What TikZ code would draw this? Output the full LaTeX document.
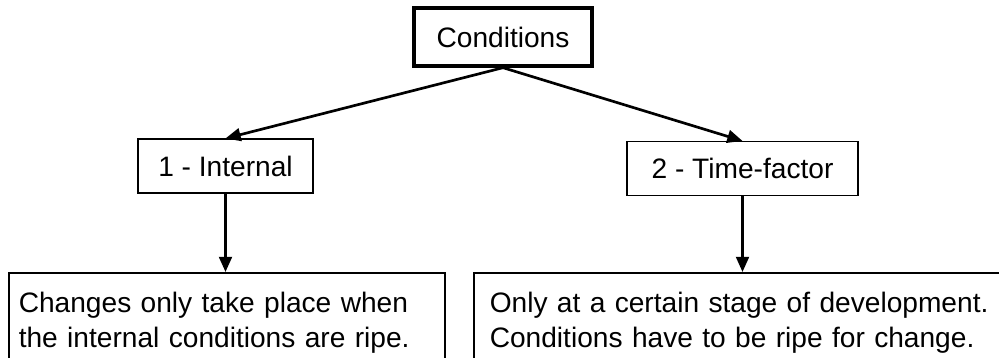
\documentclass[tikz,border=0pt]{standalone}
\usepackage{fontspec}
\setmainfont{Liberation Sans}
\usetikzlibrary{positioning, arrows.meta}

\begin{document}
\begin{tikzpicture}[x=0.025cm, y=-0.025cm,
    every node/.style={font=\fontsize{20}{24.5}\selectfont},
    headbox/.style={draw, line width=2.4pt, minimum width=4.45cm, minimum height=1.45cm, inner sep=0pt},
    kindbox/.style={draw, line width=1.1pt, minimum height=1.34cm, inner sep=0pt},
    notebox/.style={draw, line width=1.1pt, anchor=north west, align=left, minimum height=3.5cm, text depth=2cm},
    link/.style={line width=1.9pt, -{Triangle[length=0.38cm, width=0.32cm]}}]

    \clip (0,0) rectangle (999,357);

    %Top node
    \node[headbox] (cond) at (503,37) {Conditions};

    %Two kinds of conditions
    \node[kindbox, minimum width=4.38cm] (internal) at (225.5,166) {1 - Internal};
    \node[kindbox, minimum width=5.78cm] (timef) at (742.5,168.5) {2 - Time-factor};

    %Notes below
    \node[notebox, text width=10.4cm, inner xsep=0.25cm, inner ysep=0.25cm] (note1) at (8,272)
        {Changes only take place when\\the internal conditions are ripe.};
    \node[notebox, text width=12.9cm, inner xsep=0.4cm, inner ysep=0.25cm] (note2) at (473,272)
        {Only at a certain stage of development.\\Conditions have to be ripe for change.};

    %Arrows
    \draw[link] (cond.south) -- (internal.north);
    \draw[link] (cond.south) -- (timef.north);
    \draw[link] (internal.south) -- (internal.south |- note1.north);
    \draw[link] (timef.south) -- (timef.south |- note2.north);

\end{tikzpicture}
\end{document}
